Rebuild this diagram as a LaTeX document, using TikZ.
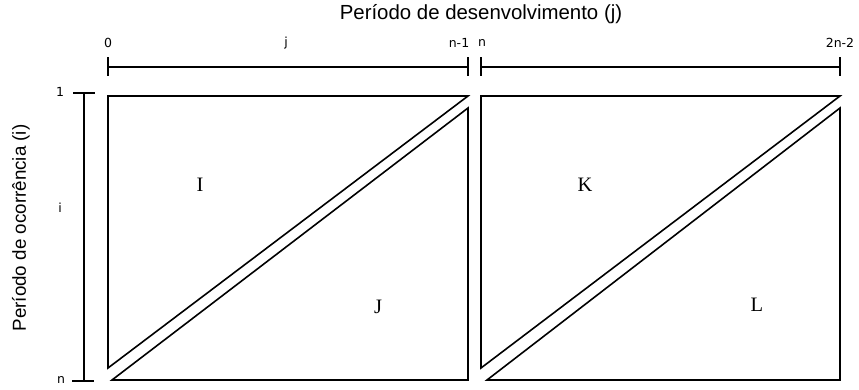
\documentclass[tikz,border=0pt]{standalone}
\usepackage{fontspec}
\setmainfont{Liberation Sans}
\newfontfamily\regionfont{Liberation Serif}
\newfontfamily\tickfont{DejaVu Sans}
\usetikzlibrary{positioning}

\tikzset{
  axisline/.style={line width=1.6pt},
  halftri/.style={draw, line width=1.6pt, line join=miter},
  ticklabel/.style={font=\tickfont\fontsize{12.5}{15}\selectfont, inner sep=0pt},
  regionlabel/.style={font=\regionfont\fontsize{20.5}{24}\selectfont, inner sep=0pt},
  axistitle/.style={font=\fontsize{20.4}{24}\selectfont, inner sep=0pt}
}

\begin{document}
\begin{tikzpicture}[x=1pt,y=-1pt]
\useasboundingbox (0,0) rectangle (859,390);

% titles
\node[axistitle] (devtitle) at (481,14) {Período de desenvolvimento (j)};
\node[axistitle, rotate=90, font=\fontsize{18.8}{22}\selectfont] (occtitle) at (21,228) {Período de ocorrência (i)};

% horizontal scale
\coordinate (h0) at (108,67);
\coordinate (hn1) at (468,67);
\coordinate (hn) at (481,67);
\coordinate (h2n) at (840,67);
\draw[axisline] (h0) -- (hn1);
\draw[axisline] (hn) -- (h2n);
\foreach \c in {h0,hn1,hn,h2n}
  \draw[axisline] ([yshift=-9pt]\c) -- ([yshift=10pt]\c);

\node[ticklabel] (lab0) at (108,43) {0};
\node[ticklabel] (labj) at (286,43) {j};
\node[ticklabel] (labn1) at (459,43) {n-1};
\node[ticklabel] (labn) at (482,43) {n};
\node[ticklabel] (lab2n) at (840,43) {2n-2};

% vertical scale
\coordinate (v1) at (84,93);
\coordinate (vn) at (84,381);
\draw[axisline] (v1) -- (vn);
\draw[axisline] ([xshift=-11pt]v1) -- ([xshift=11pt]v1);
\draw[axisline] ([xshift=-12pt]vn) -- ([xshift=10pt]vn);

\node[ticklabel] (lab1) at (60,92) {1};
\node[ticklabel] (labi) at (60,208) {i};
\node[ticklabel] (labnv) at (61,380) {n};

% left block
\draw[halftri] (108,96) -- (468,96) -- (108,368) -- cycle;
\draw[halftri] (112,380) -- (468,108) -- (468,380) -- cycle;

% right block
\draw[halftri] (481,96) -- (840,96) -- (481,368) -- cycle;
\draw[halftri] (487,380) -- (840,108) -- (840,380) -- cycle;

\node[regionlabel] (regI) at (200,185) {I};
\node[regionlabel] (regJ) at (378,307) {J};
\node[regionlabel] (regK) at (585,185) {K};
\node[regionlabel] (regL) at (757,305) {L};
\end{tikzpicture}
\end{document}
